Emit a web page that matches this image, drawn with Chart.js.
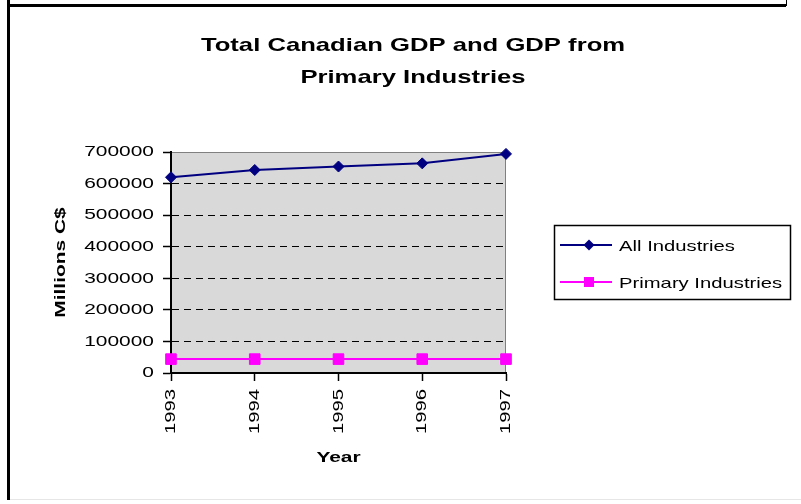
<!DOCTYPE html>
<html>
<head>
<meta charset="utf-8">
<title>Total Canadian GDP and GDP from Primary Industries</title>
<script src="https://cdn.jsdelivr.net/npm/chart.js@4/dist/chart.umd.min.js"></script>
<style>
  body { margin: 0; background: #fff; }
  canvas { display: block; }
</style>
</head>
<body>
<canvas id="gdpchart" width="801" height="504"></canvas>
<script>
var years = ['1993', '1994', '1995', '1996', '1997'];
var allIndustries = [620000, 643000, 654000, 664000, 694000];
var primaryIndustries = [44000, 44000, 44000, 44000, 44000];
var seriesNames = ['All Industries', 'Primary Industries'];
var titleLines = ['Total Canadian GDP and GDP from', 'Primary Industries'];
var yMax = 700000;
var yStep = 100000;

var FONT = "'Liberation Sans', Arial, sans-serif";
var NAVY = '#000080';
var MAGENTA = '#ff00ff';

// the spreadsheet fonts come out wide, so every string gets stretched sideways
var TEXT_STRETCH = 1.35;

function stretchText(ctx) {
    var fill = ctx.fillText;
    var measure = ctx.measureText;

    ctx.fillText = function (text, x, y, maxWidth) {
        this.save();
        this.translate(x, y);
        this.scale(TEXT_STRETCH, 1);
        if (maxWidth == null) {
            fill.call(this, text, 0, 0);
        } else {
            fill.call(this, text, 0, 0, maxWidth / TEXT_STRETCH);
        }
        this.restore();
    };

    ctx.measureText = function (text) {
        var m = measure.call(this, text);
        return {
            width: m.width * TEXT_STRETCH,
            actualBoundingBoxLeft: m.actualBoundingBoxLeft * TEXT_STRETCH,
            actualBoundingBoxRight: m.actualBoundingBoxRight * TEXT_STRETCH,
            actualBoundingBoxAscent: m.actualBoundingBoxAscent,
            actualBoundingBoxDescent: m.actualBoundingBoxDescent
        };
    };
}

function diamond(ctx, x, y, r) {
    ctx.beginPath();
    ctx.moveTo(x, y - r);
    ctx.lineTo(x + r, y);
    ctx.lineTo(x, y + r);
    ctx.lineTo(x - r, y);
    ctx.closePath();
    ctx.fill();
}

// frame, grey plot area, title and the boxed legend
var decorations = {
    id: 'decorations',
    beforeDraw: function (chart) {
        var ctx = chart.ctx;
        var a = chart.chartArea;
        ctx.save();

        ctx.strokeStyle = '#e6e6e6';
        ctx.lineWidth = 1;
        ctx.beginPath();
        ctx.moveTo(9, 499.5);
        ctx.lineTo(801, 499.5);
        ctx.stroke();

        ctx.strokeStyle = '#000';
        ctx.lineWidth = 3;
        ctx.beginPath();
        ctx.moveTo(8.5, 0);
        ctx.lineTo(8.5, 500);
        ctx.moveTo(8.5, 5.5);
        ctx.lineTo(786, 5.5);
        ctx.stroke();
        ctx.lineWidth = 1;
        ctx.beginPath();
        ctx.moveTo(786.5, 0);
        ctx.lineTo(786.5, 6);
        ctx.stroke();

        ctx.fillStyle = '#d9d9d9';
        ctx.fillRect(a.left, a.top, a.right - a.left, a.bottom - a.top);
        ctx.strokeStyle = '#808080';
        ctx.lineWidth = 1;
        ctx.strokeRect(a.left + 0.5, a.top + 0.5, a.right - a.left - 1, a.bottom - a.top);
        ctx.restore();
    },
    afterDraw: function (chart) {
        var ctx = chart.ctx;
        ctx.save();
        ctx.fillStyle = '#000';
        ctx.textBaseline = 'alphabetic';

        ctx.font = 'bold 19px ' + FONT;
        ctx.textAlign = 'center';
        ctx.fillText(titleLines[0], 413, 51);
        ctx.fillText(titleLines[1], 413, 83);

        // legend
        ctx.strokeStyle = '#000';
        ctx.lineWidth = 1.5;
        ctx.strokeRect(554.5, 225.5, 236, 74);

        var rows = [
            { name: seriesNames[0], color: NAVY, y: 245 },
            { name: seriesNames[1], color: MAGENTA, y: 282 }
        ];
        ctx.font = '15px ' + FONT;
        ctx.textAlign = 'left';
        for (var i = 0; i < rows.length; i++) {
            var row = rows[i];
            ctx.strokeStyle = row.color;
            ctx.fillStyle = row.color;
            ctx.lineWidth = 2;
            ctx.beginPath();
            ctx.moveTo(560, row.y);
            ctx.lineTo(612, row.y);
            ctx.stroke();
            if (i == 0) {
                diamond(ctx, 589, row.y, 5.5);
            } else {
                ctx.fillRect(584, row.y - 5, 10, 10);
            }
            ctx.fillStyle = '#000';
            ctx.fillText(row.name, 619, row.y + 6);
        }
        ctx.restore();
    }
};

var ctx = document.getElementById('gdpchart').getContext('2d');
stretchText(ctx);

var chart = new Chart(ctx, {
    type: 'line',
    data: {
        labels: years,
        datasets: [{
            label: seriesNames[0],
            data: allIndustries,
            borderColor: NAVY,
            backgroundColor: NAVY,
            borderWidth: 2,
            pointStyle: 'rectRot',
            pointRadius: 5.5,
            pointBorderWidth: 1,
            tension: 0,
            clip: false
        }, {
            label: seriesNames[1],
            data: primaryIndustries,
            borderColor: MAGENTA,
            backgroundColor: MAGENTA,
            borderWidth: 2,
            pointStyle: 'rect',
            pointRadius: 7.5,
            pointBorderWidth: 1,
            tension: 0,
            clip: false
        }]
    },
    options: {
        responsive: false,
        animation: false,
        layout: { padding: { top: 152, right: 295, bottom: 0, left: 0 } },
        plugins: {
            legend: { display: false },
            title: { display: false },
            tooltip: { enabled: false }
        },
        scales: {
            x: {
                offset: false,
                grid: {
                    drawOnChartArea: false,
                    tickLength: 8,
                    tickColor: '#000',
                    tickWidth: 1.5
                },
                border: { color: '#000', width: 2 },
                ticks: {
                    minRotation: 90,
                    maxRotation: 90,
                    padding: 8,
                    color: '#000',
                    font: { family: FONT, size: 15 }
                },
                title: {
                    display: true,
                    text: 'Year',
                    color: '#000',
                    font: { family: FONT, size: 15.5, weight: 'bold' },
                    padding: { top: 0, bottom: 37 }
                },
                afterFit: function (scale) {
                    scale.height = 131;
                }
            },
            y: {
                min: 0,
                max: yMax,
                grid: {
                    color: function (c) {
                        if (c.tick && (c.tick.value === 0 || c.tick.value === yMax)) {
                            return 'rgba(0,0,0,0)';
                        }
                        return '#000';
                    },
                    lineWidth: 1,
                    tickColor: '#000',
                    tickLength: 8,
                    tickWidth: 1.5
                },
                border: { color: '#000', width: 2, dash: [7, 5] },
                ticks: {
                    stepSize: yStep,
                    padding: 9,
                    color: '#000',
                    font: { family: FONT, size: 15.5 },
                    callback: function (value) {
                        return String(value);
                    }
                },
                title: {
                    display: true,
                    text: 'Millions C$',
                    color: '#000',
                    font: { family: FONT, size: 15.5, weight: 'bold' },
                    padding: { top: 51, bottom: 0 }
                },
                afterFit: function (scale) {
                    scale.width = 171;
                }
            }
        }
    },
    plugins: [decorations]
});
</script>
</body>
</html>
